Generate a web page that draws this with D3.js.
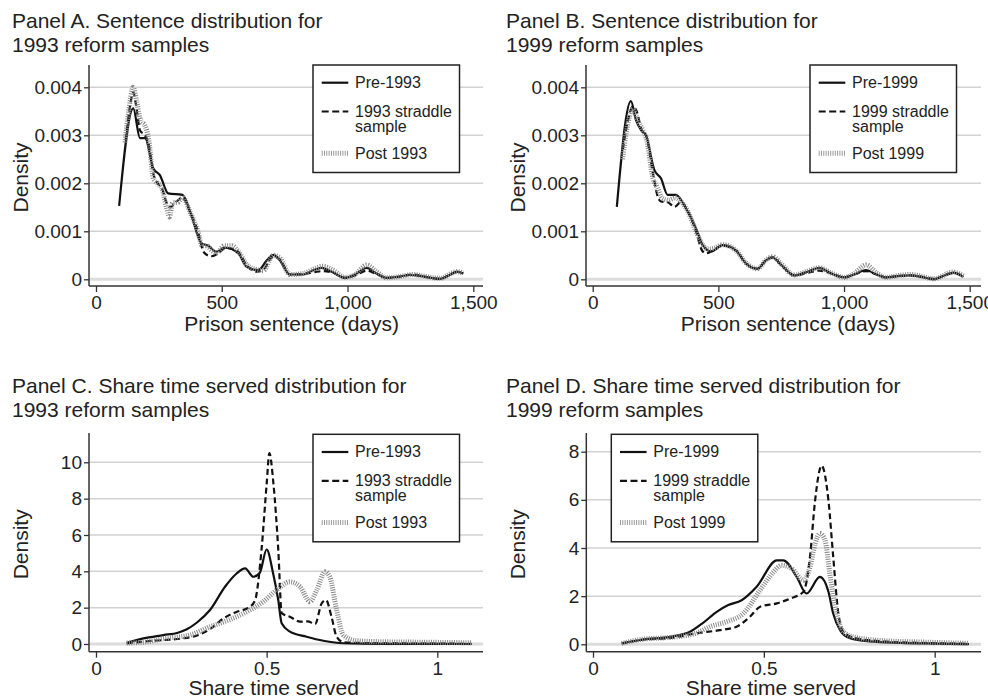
<!DOCTYPE html>
<html>
<head>
<meta charset="utf-8">
<script src="https://cdn.jsdelivr.net/npm/d3@7.9.0/dist/d3.min.js"></script>
<style>
  body { margin: 0; background: #fff; }
  svg { display: block; font-family: "Liberation Sans", Arial, sans-serif; }
</style>
</head>
<body>
<svg width="988" height="698"></svg>
<script>
// [x, density]
const sentencePre93 = [[92,.00153],[148,.00356],[175,.00294],[195,.00294],[228,.00231],[254,.00217],[287,.00179],[344,.00176],[374,.00141],[420,.00075],[446,.00070],[479,.000575],[513,.00066],[566,.00054],[599,.00026],[645,.00019],[680,.00040],[705,.00051],[730,.00040],[771,.00010],[824,.00010],[860,.00018],[897,.00024],[940,.00015],[990,.00003],[1030,.00010],[1076,.00024],[1115,.00012],[1155,.00003],[1200,.00005],[1248,.00009],[1300,.00006],[1367,.00001],[1410,.00010],[1434,.00016],[1460,.00012]];
const sentenceStraddle93 = [[118,.0029],[135,.0036],[148,.0039],[160,.0036],[175,.0031],[195,.0030],[210,.0028],[228,.0022],[245,.0020],[262,.0019],[280,.0016],[295,.0015],[315,.0016],[345,.0017],[374,.0014],[405,.0010],[425,.0006],[440,.00051],[460,.00048],[480,.00052],[515,.00065],[545,.00063],[570,.00055],[600,.00028],[640,.00016],[665,.00020],[705,.00048],[730,.00042],[771,.00010],[824,.00011],[870,.00015],[900,.00017],[940,.00014],[990,.00003],[1030,.00008],[1076,.00018],[1115,.00011],[1155,.00003],[1200,.00005],[1260,.0001],[1300,.00006],[1367,.00001],[1434,.00015],[1460,.00012]];
const sentencePost93 = [[115,.00285],[130,.0035],[148,.0040],[162,.0037],[178,.0033],[195,.0032],[210,.0029],[228,.0021],[245,.0020],[262,.0019],[280,.0015],[292,.0013],[305,.0016],[325,.0016],[345,.0017],[374,.0014],[405,.0010],[422,.0007],[440,.0007],[460,.0006],[480,.00055],[510,.0007],[540,.0007],[570,.00055],[600,.0003],[640,.0002],[665,.00018],[705,.0005],[730,.00045],[771,.0001],[824,.00012],[860,.0002],[900,.00027],[940,.0002],[990,.00004],[1030,.0001],[1076,.0003],[1115,.00016],[1155,.00003],[1200,.00005],[1260,.0001],[1300,.00007],[1367,.00002],[1434,.00016],[1460,.00013]];

const sentencePre99 = [[96,.00151],[152,.00371],[172,.00332],[192,.00311],[212,.0030],[245,.00228],[272,.0021],[298,.00176],[331,.00176],[371,.00148],[411,.00106],[438,.00071],[471,.00058],[517,.00071],[570,.0006],[610,.00033],[656,.00022],[690,.0004],[716,.00045],[750,.0003],[802,.00008],[850,.00015],[902,.00024],[950,.00012],[1001,.00004],[1040,.00010],[1088,.00019],[1130,.0001],[1167,.00004],[1220,.00007],[1263,.00008],[1310,.00005],[1356,.0],[1400,.00008],[1435,.00014],[1475,.00005]];
const sentenceStraddle99 = [[120,.0027],[140,.0033],[160,.0036],[175,.0035],[195,.0031],[212,.0030],[240,.0022],[260,.0017],[272,.00162],[300,.0016],[325,.00151],[350,.0016],[380,.0014],[411,.0010],[435,.0006],[451,.00054],[471,.00058],[517,.0007],[570,.0006],[610,.00033],[656,.00022],[690,.0004],[716,.00046],[750,.0003],[802,.00008],[850,.00013],[902,.00018],[950,.00012],[1001,.00004],[1040,.0001],[1088,.00017],[1130,.0001],[1167,.00004],[1220,.00007],[1263,.00008],[1310,.00005],[1356,.00001],[1435,.00013],[1475,.00006]];
const sentencePost99 = [[119,.0025],[135,.0031],[160,.00355],[180,.0033],[200,.0031],[215,.0029],[240,.0021],[258,.0019],[275,.0017],[300,.00165],[330,.0017],[355,.0016],[380,.0014],[411,.0010],[440,.0007],[460,.00063],[485,.00065],[517,.00072],[570,.0006],[610,.00034],[656,.00022],[690,.0004],[716,.00047],[750,.00032],[802,.00009],[850,.00016],[902,.00024],[950,.00013],[1001,.00004],[1040,.00012],[1088,.0003],[1130,.00013],[1167,.00004],[1220,.00008],[1263,.0001],[1310,.00006],[1356,.00001],[1435,.00015],[1475,.00007]];

const sharePre93 = [[0.09,0.07],[0.139,0.31],[0.197,0.49],[0.24,0.62],[0.266,0.81],[0.295,1.17],[0.334,1.87],[0.378,3.15],[0.412,3.88],[0.437,4.16],[0.461,3.7],[0.48,3.92],[0.5,5.2],[0.519,3.88],[0.534,2.42],[0.544,1.14],[0.568,0.68],[0.617,0.4],[0.666,0.18],[0.725,0.04],[0.8,0.02],[0.9,0.01],[1.0,0.01],[1.1,0.0]];
const shareStraddle93 = [[0.09,0.03],[0.15,0.15],[0.2,0.22],[0.25,0.3],[0.3,0.5],[0.34,0.9],[0.373,1.4],[0.41,1.75],[0.451,2.05],[0.466,2.4],[0.485,5.2],[0.5,8.8],[0.508,10.5],[0.52,8.8],[0.534,5.2],[0.544,1.7],[0.568,1.5],[0.598,1.23],[0.62,1.25],[0.642,1.1],[0.661,2.23],[0.674,2.42],[0.69,1.5],[0.705,0.4],[0.725,0.1],[0.8,0.05],[0.9,0.03],[1.0,0.02],[1.1,0.01]];
const sharePost93 = [[0.09,0.05],[0.15,0.12],[0.2,0.3],[0.276,0.5],[0.334,0.95],[0.363,1.14],[0.432,1.68],[0.49,2.33],[0.529,2.97],[0.568,3.42],[0.598,3.15],[0.627,2.33],[0.647,2.97],[0.671,3.97],[0.685,3.7],[0.705,1.87],[0.725,0.49],[0.764,0.18],[0.85,0.12],[0.95,0.1],[1.05,0.08],[1.1,0.07]];

const sharePre99 = [[0.084,0.04],[0.147,0.2],[0.225,0.31],[0.284,0.52],[0.323,0.9],[0.362,1.35],[0.396,1.63],[0.435,1.83],[0.479,2.39],[0.538,3.49],[0.557,3.49],[0.596,2.8],[0.625,2.11],[0.664,2.8],[0.689,2.18],[0.703,1.28],[0.723,0.59],[0.752,0.25],[0.81,0.12],[0.9,0.06],[1.0,0.03],[1.1,0.01]];
const shareStraddle99 = [[0.084,0.03],[0.15,0.2],[0.22,0.25],[0.303,0.46],[0.372,0.59],[0.42,0.73],[0.459,1.14],[0.489,1.56],[0.538,1.7],[0.577,1.9],[0.616,2.18],[0.635,3.63],[0.65,5.98],[0.669,7.42],[0.689,5.98],[0.703,3.63],[0.718,1.28],[0.733,0.52],[0.77,0.25],[0.85,0.12],[0.95,0.06],[1.1,0.02]];
const sharePost99 = [[0.084,0.04],[0.15,0.22],[0.22,0.28],[0.3,0.45],[0.342,0.73],[0.391,0.94],[0.44,1.28],[0.489,2.25],[0.528,3.0],[0.552,3.28],[0.581,3.15],[0.616,2.66],[0.635,3.21],[0.65,4.18],[0.664,4.6],[0.679,4.32],[0.693,2.94],[0.713,1.28],[0.733,0.52],[0.77,0.28],[0.85,0.15],[0.95,0.1],[1.1,0.04]];

const sentenceTicksX = [0, 500, 1000, 1500];
const sentenceTicksY = [0, 0.001, 0.002, 0.003, 0.004];
const shareTicksX = [0, 0.5, 1];
const shareTicksY93 = [0, 2, 4, 6, 8, 10];
const shareTicksY99 = [0, 2, 4, 6, 8];

const legend93 = ['Pre-1993', ['1993 straddle', 'sample'], 'Post 1993'];
const legend99 = ['Pre-1999', ['1999 straddle', 'sample'], 'Post 1999'];

const svg = d3.select('svg');

// layout of each panel (pixel boxes)
const panels = [
  { title: ['Panel A. Sentence distribution for', '1993 reform samples'], tx: 12, ty: 28,
    axX: 89, axTop: 65, axBot: 286, axRight: 483,
    x: d3.scaleLinear([0, 1500], [96, 473.3]), y: d3.scaleLinear([0, 0.004], [279.3, 87.3]),
    xt: sentenceTicksX, yt: sentenceTicksY, xfmt: d3.format(','), yfmt: d => d === 0 ? '0' : d3.format('.3f')(d),
    xlabel: 'Prison sentence (days)', xlabelY: 331,
    series: [sentencePre93, sentenceStraddle93, sentencePost93], legend: legend93, lx: 313, ly: 65 },
  { title: ['Panel B. Sentence distribution for', '1999 reform samples'], tx: 506, ty: 28,
    axX: 586, axTop: 65, axBot: 286, axRight: 981,
    x: d3.scaleLinear([0, 1500], [592.7, 969.7]), y: d3.scaleLinear([0, 0.004], [279.3, 87.3]),
    xt: sentenceTicksX, yt: sentenceTicksY, xfmt: d3.format(','), yfmt: d => d === 0 ? '0' : d3.format('.3f')(d),
    xlabel: 'Prison sentence (days)', xlabelY: 331,
    series: [sentencePre99, sentenceStraddle99, sentencePost99], legend: legend99, lx: 810, ly: 65 },
  { title: ['Panel C. Share time served distribution for', '1993 reform samples'], tx: 12, ty: 393,
    axX: 89, axTop: 433, axBot: 651.7, axRight: 483,
    x: d3.scaleLinear([0, 1], [96, 437.3]), y: d3.scaleLinear([0, 10], [644, 462.3]),
    xt: shareTicksX, yt: shareTicksY93, xfmt: d => String(d), yfmt: d => String(d),
    xlabel: 'Share time served', xlabelY: 695,
    series: [sharePre93, shareStraddle93, sharePost93], legend: legend93, lx: 313, ly: 434.3 },
  { title: ['Panel D. Share time served distribution for', '1999 reform samples'], tx: 506, ty: 393,
    axX: 586.3, axTop: 433, axBot: 651.7, axRight: 981,
    x: d3.scaleLinear([0, 1], [593, 934.7]), y: d3.scaleLinear([0, 8], [644.3, 451.7]),
    xt: shareTicksX, yt: shareTicksY99, xfmt: d => String(d), yfmt: d => String(d),
    xlabel: 'Share time served', xlabelY: 695,
    series: [sharePre99, shareStraddle99, sharePost99], legend: legend99, lx: 611.3, ly: 434.3 }
];

const styles = [
  { stroke: '#111', width: 2.2, dash: null },
  { stroke: '#111', width: 2.2, dash: '6,3.5' },
  { stroke: '#8a8a8a', width: 5, dash: '1,1.3' }
];

panels.forEach(p => {
  const g = svg.append('g');

  // title
  g.append('text').attr('x', p.tx).attr('y', p.ty)
    .attr('font-size', 21).attr('fill', '#222')
    .selectAll('tspan').data(p.title).join('tspan')
    .attr('x', p.tx).attr('dy', (d, i) => i ? 24 : 0).text(d => d);

  // gridlines
  g.selectAll('.grid').data(p.yt).join('line')
    .attr('x1', p.axX).attr('x2', p.axRight)
    .attr('y1', d => p.y(d)).attr('y2', d => p.y(d))
    .attr('stroke', d => d === 0 ? '#dcdcdc' : '#d2d2d2')
    .attr('stroke-width', d => d === 0 ? 3 : 1.5);

  // y axis
  const ya = g.append('g').attr('transform', `translate(${p.axX},0)`)
    .call(d3.axisLeft(p.y).tickValues(p.yt).tickFormat(p.yfmt).tickSize(5).tickPadding(2));
  ya.select('.domain').remove();
  ya.selectAll('line').attr('stroke', '#333').attr('stroke-width', 1.3);
  ya.selectAll('text').attr('font-size', 19).attr('fill', '#222')
    .attr('font-family', '"Liberation Sans", Arial, sans-serif');
  g.append('line').attr('x1', p.axX).attr('x2', p.axX).attr('y1', p.axTop).attr('y2', p.axBot)
    .attr('stroke', '#333').attr('stroke-width', 1.5);

  // x axis
  const xa = g.append('g').attr('transform', `translate(0,${p.axBot})`)
    .call(d3.axisBottom(p.x).tickValues(p.xt).tickFormat(p.xfmt).tickSize(6).tickPadding(4));
  xa.select('.domain').remove();
  xa.selectAll('line').attr('stroke', '#333').attr('stroke-width', 1.3);
  xa.selectAll('text').attr('font-size', 19).attr('fill', '#222')
    .attr('font-family', '"Liberation Sans", Arial, sans-serif');
  g.append('line').attr('x1', p.axX).attr('x2', p.axRight).attr('y1', p.axBot).attr('y2', p.axBot)
    .attr('stroke', '#333').attr('stroke-width', 1.5);

  // axis titles
  const xMid = (p.x.range()[0] + p.x.range()[1]) / 2 + 7;
  g.append('text').attr('x', xMid).attr('y', p.xlabelY)
    .attr('text-anchor', 'middle').attr('font-size', 21).attr('fill', '#222').text(p.xlabel);
  const yMid = (p.axTop + p.axBot) / 2 + 2;
  g.append('text').attr('transform', `translate(${p.axX - 61},${yMid}) rotate(-90)`)
    .attr('text-anchor', 'middle').attr('font-size', 21).attr('fill', '#222').text('Density');

  // density curves
  const line = d3.line().x(d => p.x(d[0])).y(d => p.y(d[1])).curve(d3.curveMonotoneX);
  p.series.forEach((s, i) => {
    g.append('path').datum(s).attr('d', line).attr('fill', 'none')
      .attr('stroke', styles[i].stroke).attr('stroke-width', styles[i].width)
      .attr('stroke-dasharray', styles[i].dash).attr('stroke-linejoin', 'round');
  });

  // legend
  const lg = g.append('g').attr('transform', `translate(${p.lx},${p.ly})`);
  lg.append('rect').attr('width', 146.5).attr('height', 107.5)
    .attr('fill', '#fff').attr('stroke', '#222').attr('stroke-width', 1.5);
  const rowY = [17.7, 46.5, 88.3];
  p.legend.forEach((lab, i) => {
    lg.append('line').attr('x1', 8.7).attr('x2', 35.3).attr('y1', rowY[i]).attr('y2', rowY[i])
      .attr('stroke', i === 2 ? '#9a9a9a' : styles[i].stroke).attr('stroke-width', styles[i].width)
      .attr('stroke-dasharray', i === 1 ? '7,3.5' : styles[i].dash);
    const lines = Array.isArray(lab) ? lab : [lab];
    lg.append('text').attr('x', 42).attr('y', rowY[i] + 5.5)
      .attr('font-size', 16).attr('fill', '#222')
      .selectAll('tspan').data(lines).join('tspan')
      .attr('x', 42).attr('dy', (d, k) => k ? 15 : 0).text(d => d);
  });
});
</script>
</body>
</html>
